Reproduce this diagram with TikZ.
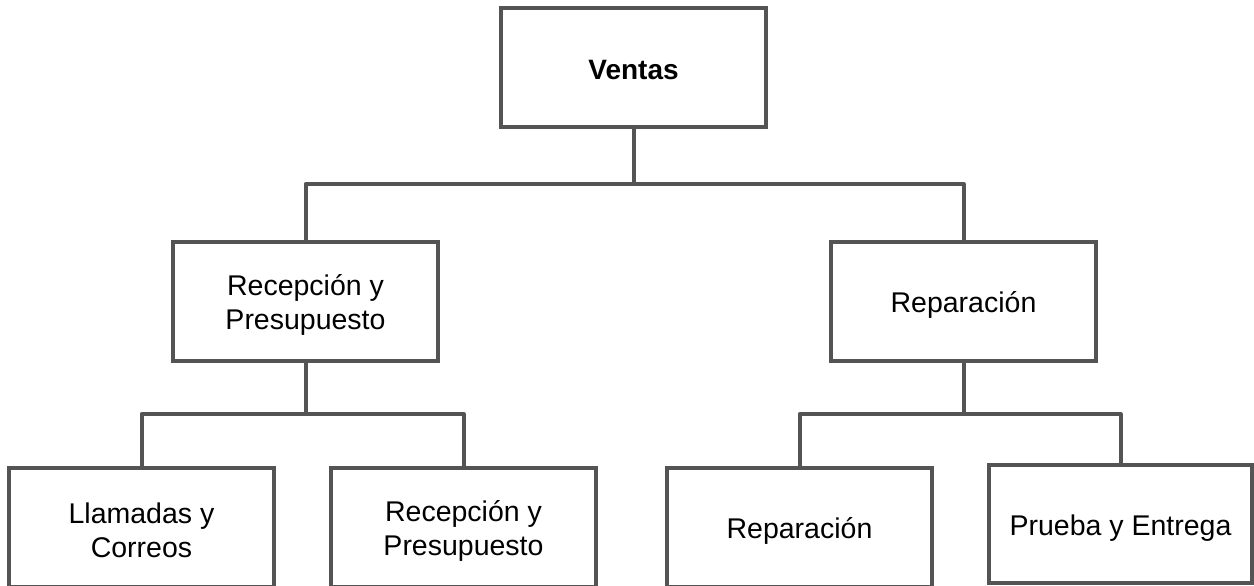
\documentclass[tikz,border=0pt]{standalone}
\usepackage{fontspec}
\setmainfont{Liberation Sans}
\definecolor{linegray}{HTML}{545454}
\begin{document}
\begin{tikzpicture}[x=1pt,y=-1pt,
  orgbox/.style={draw=linegray,line width=4pt,fill=white,rectangle,
    minimum width=265pt,minimum height=119pt,inner sep=0pt,outer sep=0pt},
  boxtext/.style={align=center,inner sep=0pt,text=black,
    font=\fontsize{28.5}{34}\selectfont},
  conn/.style={draw=linegray,line width=4pt,line join=round}]
\useasboundingbox (0,0) rectangle (1254,586);
\node[orgbox] (ventas) at (633.5,67.5) {};
\node[orgbox] (rec1) at (305.5,301.5) {};
\node[orgbox] (rep1) at (963.5,301.5) {};
\node[orgbox] (llam) at (141.5,527.5) {};
\node[orgbox] (rec2) at (463.5,527.5) {};
\node[orgbox] (rep2) at (799.5,527.5) {};
\node[orgbox,minimum width=263pt,minimum height=118pt] (prueba) at (1120.5,524) {};
\node[boxtext,font=\fontsize{28}{34}\selectfont\bfseries] (ventas-t) at ([yshift=-3pt]ventas.center) {Ventas};
\node[boxtext] (rec1-t) at ([yshift=-3.5pt]rec1.center) {Recepción y\\Presupuesto};
\node[boxtext] (rep1-t) at ([yshift=-3pt]rep1.center) {Reparación};
\node[boxtext] (llam-t) at ([yshift=-3pt]llam.center) {Llamadas y\\Correos};
\node[boxtext] (rec2-t) at ([yshift=-3pt]rec2.center) {Recepción y\\Presupuesto};
\node[boxtext] (rep2-t) at ([yshift=-3.5pt]rep2.center) {Reparación};
\node[boxtext] (prueba-t) at ([yshift=-4pt]prueba.center) {Prueba y Entrega};
\draw[conn] (ventas.south) -- ++(0,57) coordinate (j1);
\draw[conn] (rec1.north) |- (j1) -| (rep1.north);
\draw[conn] (rec1.south) -- ++(0,53) coordinate (j2);
\draw[conn] (llam.north) |- (j2) -| (rec2.north);
\draw[conn] (rep1.south) -- ++(0,53) coordinate (j3);
\draw[conn] (rep2.north) |- (j3) -| (prueba.north);
\end{tikzpicture}
\end{document}
